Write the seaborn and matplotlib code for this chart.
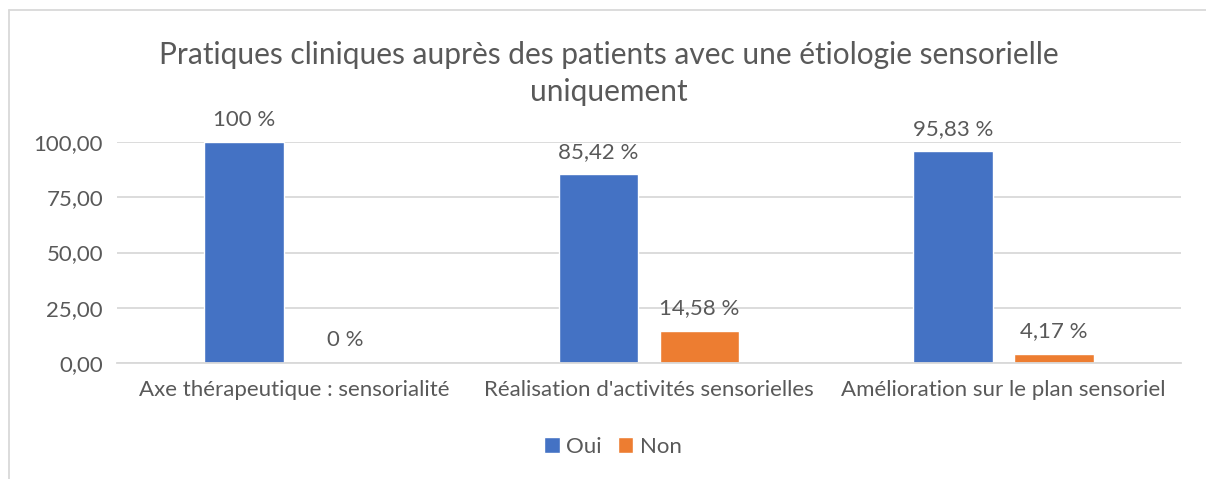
import pandas as pd
import matplotlib
matplotlib.use('Agg')
import matplotlib.pyplot as plt
import seaborn as sns
from matplotlib.lines import Line2D

# Données
categories = ["Axe thérapeutique : sensorialité",
              "Réalisation d'activités sensorielles",
              "Amélioration sur le plan sensoriel"]
oui = [100.0, 85.42, 95.83]
non = [0.0, 14.58, 4.17]
labels_oui = ["100 %", "85,42 %", "95,83 %"]
labels_non = ["0 %", "14,58 %", "4,17 %"]
yticks = [0, 25, 50, 75, 100]

df = pd.DataFrame({
    "categorie": categories * 2,
    "reponse": ["Oui"] * 3 + ["Non"] * 3,
    "valeur": oui + non,
})

sns.set_theme(style="white")
plt.rcParams['font.family'] = ['Lato', 'DejaVu Sans']
txt = '#595959'
fs = 16

fig = plt.figure(figsize=(12.06, 4.79), dpi=100)
ax = fig.add_axes([117/1206, 1 - 363/479, 1064/1206, 221/479])

sns.barplot(data=df, x="categorie", y="valeur", hue="reponse",
            hue_order=["Oui", "Non"], palette=["#4472C4", "#ED7D31"],
            saturation=1, width=0.569, gap=0.21, ax=ax, legend=True)

ax.set_xlim(-0.5, 2.5)
ax.set_ylim(0, 100)
ax.set_yticks(yticks)
ax.set_yticklabels([f"{v:.2f}".replace('.', ',') for v in yticks])
ax.yaxis.grid(True, color='#D9D9D9', linewidth=1.3)
ax.set_axisbelow(True)
for s in ax.spines.values():
    s.set_visible(False)
ax.spines['bottom'].set_visible(True)
ax.spines['bottom'].set_color('#D9D9D9')
ax.spines['bottom'].set_linewidth(1.3)
ax.tick_params(axis='both', length=0, colors=txt, labelsize=fs)
ax.tick_params(axis='x', pad=12)
ax.tick_params(axis='y', pad=10)
ax.set_xlabel("")
ax.set_ylabel("")

for cont, labs in zip(ax.containers, [labels_oui, labels_non]):
    ax.bar_label(cont, labels=labs, padding=9, color=txt, fontsize=fs)

fig.text(609/1206, 1 - 73.5/479,
         "Pratiques cliniques auprès des patients avec une étiologie sensorielle\nuniquement",
         ha='center', va='center', color=txt, fontsize=21.5, linespacing=1.4)

# légende centrée sur la figure (comme Excel), pas sur les axes
leg = fig.legend(*ax.get_legend_handles_labels(), loc='center',
                 bbox_to_anchor=(613/1206, 1 - 447/479),
                 ncol=2, frameon=False, fontsize=fs, handlelength=0.7,
                 handleheight=0.7, handletextpad=0.3, columnspacing=0.7)
ax.get_legend().remove()
for t in leg.get_texts():
    t.set_color(txt)

# cadre de la zone de graphique
fig.add_artist(Line2D([9/1206, 9/1206], [0, 1 - 10/479], color='#D9D9D9', lw=1.3))
fig.add_artist(Line2D([9/1206, 1], [1 - 10/479, 1 - 10/479], color='#D9D9D9', lw=1.3))

fig.savefig('out.png', dpi=100)
